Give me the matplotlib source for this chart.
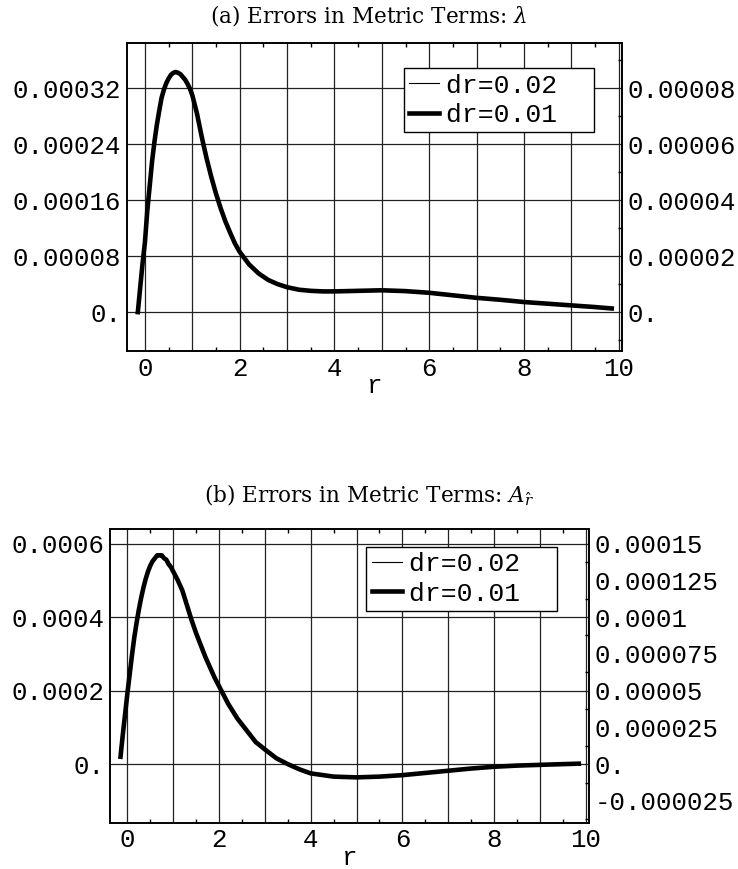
import numpy as np
import matplotlib.pyplot as plt
from matplotlib.ticker import MultipleLocator

# radial points
r_vals = [-0.15, -0.1, -0.05, 0.0,
          0.05, 0.1, 0.15, 0.2, 0.25, 0.3, 0.35, 0.4, 0.45, 0.5,
          0.55, 0.6, 0.65, 0.7, 0.75, 0.8, 0.85, 0.9, 0.95, 1.0,
          1.1, 1.2, 1.3, 1.4, 1.5, 1.6, 1.7, 1.8, 1.9, 2.0,
          2.2, 2.4, 2.6, 2.8, 3.0, 3.25, 3.5, 3.75, 4.0,
          4.5, 5.0, 5.5, 6.0, 6.5, 7.0, 7.5, 8.0, 8.5, 9.0, 9.5, 9.85]

# (a) lambda errors, dr=0.02 on left axis (units 1e-5)
lam_02 = [0.0, 3.5, 7.0, 10.0,
          14.5, 18.0, 21.5, 24.3, 26.7, 28.7, 30.6, 31.8, 32.7, 33.4,
          33.9, 34.2, 34.3, 34.2, 34.0, 33.6, 33.2, 32.6, 31.9, 31.0,
          28.3, 25.0, 22.0, 19.3, 16.9, 14.8, 12.9, 11.3, 9.8, 8.6,
          6.8, 5.5, 4.6, 4.0, 3.55, 3.2, 3.02, 2.95, 2.95,
          3.05, 3.1, 3.0, 2.75, 2.4, 2.05, 1.75, 1.45, 1.2, 0.95, 0.7, 0.5]
# (a) lambda errors, dr=0.01 on right axis (units 1e-5)
lam_01 = [0.0, 0.88, 1.75, 2.5,
          3.63, 4.5, 5.38, 6.08, 6.68, 7.18, 7.65, 7.95, 8.18, 8.35,
          8.48, 8.55, 8.58, 8.55, 8.5, 8.4, 8.3, 8.15, 7.98, 7.75,
          7.08, 6.25, 5.5, 4.83, 4.23, 3.7, 3.23, 2.83, 2.45, 2.15,
          1.7, 1.38, 1.15, 1.0, 0.89, 0.8, 0.76, 0.74, 0.74,
          0.76, 0.78, 0.75, 0.69, 0.6, 0.51, 0.44, 0.36, 0.3, 0.24, 0.18, 0.13]

# (b) A_r errors, dr=0.02 on left axis (units 1e-4)
ar_02 = [0.2, 0.8, 1.35, 1.9,
         2.45, 2.95, 3.45, 3.85, 4.2, 4.5, 4.78, 5.02, 5.22, 5.38,
         5.5, 5.6, 5.66, 5.68, 5.66, 5.61, 5.54, 5.45, 5.35, 5.25,
         5.0, 4.7, 4.32, 3.92, 3.55, 3.22, 2.92, 2.64, 2.37, 2.1,
         1.65, 1.25, 0.9, 0.6, 0.38, 0.15, 0.0, -0.14, -0.25,
         -0.34, -0.36, -0.34, -0.30, -0.24, -0.18, -0.12, -0.07, -0.04, -0.02, 0.0, 0.01]
# (b) A_r errors, dr=0.01 on right axis (units 1e-4)
ar_01 = [0.05, 0.2, 0.34, 0.48,
         0.61, 0.74, 0.86, 0.96, 1.05, 1.13, 1.2, 1.26, 1.31, 1.35,
         1.38, 1.4, 1.42, 1.42, 1.42, 1.4, 1.39, 1.36, 1.34, 1.31,
         1.25, 1.18, 1.08, 0.98, 0.89, 0.81, 0.73, 0.66, 0.59, 0.53,
         0.41, 0.31, 0.23, 0.15, 0.1, 0.04, 0.0, -0.035, -0.063,
         -0.085, -0.09, -0.085, -0.075, -0.06, -0.045, -0.03, -0.018, -0.01, -0.005, 0.0, 0.003]

titles = ["(a) Errors in Metric Terms: $\\lambda$",
          "(b) Errors in Metric Terms: $A_{\\hat{r}}$"]
legend_labels = ["dr=0.02  ", "dr=0.01  "]

xtick_pos = list(range(0, 11))
xtick_lab = ["0", "", "2", "", "4", "", "6", "", "8", "", "10"]

a_left_pos = [0, 0.00008, 0.00016, 0.00024, 0.00032]
a_left_lab = ["0.", "0.00008", "0.00016", "0.00024", "0.00032"]
a_right_pos = [0, 0.00002, 0.00004, 0.00006, 0.00008]
a_right_lab = ["0.", "0.00002", "0.00004", "0.00006", "0.00008"]

b_left_pos = [0, 0.0002, 0.0004, 0.0006]
b_left_lab = ["0.", "0.0002", "0.0004", "0.0006"]
b_right_pos = [-0.000025, 0, 0.000025, 0.00005, 0.000075, 0.0001, 0.000125, 0.00015]
b_right_lab = ["-0.000025", "0.", "0.000025", "0.00005", "0.000075", "0.0001",
               "0.000125", "0.00015"]

plt.rcParams['mathtext.fontset'] = 'dejavuserif'
mono = 'Liberation Mono'
fs = 18.5

fig = plt.figure(figsize=(7.38, 8.69), dpi=100)


def panel(rect, title, title_y, y02, y01, scale, ylim, lpos, llab, rpos, rlab,
          rminor, leg_anchor):
    ax = fig.add_axes(rect)
    ax2 = ax.twinx()
    r = np.array(r_vals)
    l1, = ax.plot(r, np.array(y02) * scale, color='black', lw=0.8)
    l2, = ax2.plot(r, np.array(y01) * scale, color='black', lw=3.3,
                   solid_joinstyle='round')
    ax.set_xlim(-0.38, 10.07)
    ax.set_ylim(*ylim)
    ax2.set_ylim(ylim[0] / 4, ylim[1] / 4)

    ax.set_xticks(xtick_pos)
    ax.set_xticklabels(xtick_lab, fontfamily=mono, fontsize=fs)
    ax.xaxis.set_minor_locator(MultipleLocator(0.5))
    ax.set_yticks(lpos)
    ax.set_yticklabels(llab, fontfamily=mono, fontsize=fs)
    ax2.set_yticks(rpos)
    ax2.set_yticklabels(rlab, fontfamily=mono, fontsize=fs)
    ax2.yaxis.set_minor_locator(MultipleLocator(rminor))

    ax.grid(True, which='major', color='#222222', lw=0.9)
    ax.tick_params(which='both', direction='in', top=True, pad=4)
    ax.tick_params(which='major', length=0)
    ax.tick_params(which='minor', length=3, width=1)
    ax2.tick_params(which='both', direction='in', pad=4)
    ax2.tick_params(which='major', length=0)
    ax2.tick_params(which='minor', length=3, width=1)
    for a in (ax, ax2):
        for s in a.spines.values():
            s.set_linewidth(1.2)

    ax.set_xlabel("r", fontfamily=mono, fontsize=fs, labelpad=-5)
    fig.text(0.5, title_y, title, fontfamily='DejaVu Serif', fontsize=15.5,
             ha='center', va='center')

    leg = ax2.legend([l1, l2], legend_labels, loc='upper right',
                     bbox_to_anchor=leg_anchor, borderaxespad=0,
                     prop={'family': mono, 'size': 19}, fancybox=False,
                     framealpha=1, edgecolor='black', handlelength=1.15,
                     handletextpad=0.25, borderpad=0.2, labelspacing=0.2)
    leg.get_frame().set_linewidth(1.0)
    return ax


panel([0.172, 0.596, 0.671, 0.354], titles[0], 1 - 15 / 869, lam_02, lam_01, 1e-5,
      (-0.0000557, 0.000384), a_left_pos, a_left_lab, a_right_pos, a_right_lab,
      0.00001, (0.943, 0.919))

panel([0.149, 0.053, 0.649, 0.338], titles[1], 1 - 495 / 869, ar_02, ar_01, 1e-4,
      (-0.00016, 0.000639), b_left_pos, b_left_lab, b_right_pos, b_right_lab,
      0.0000125, (0.933, 0.939))

fig.savefig("out.png", dpi=100)
